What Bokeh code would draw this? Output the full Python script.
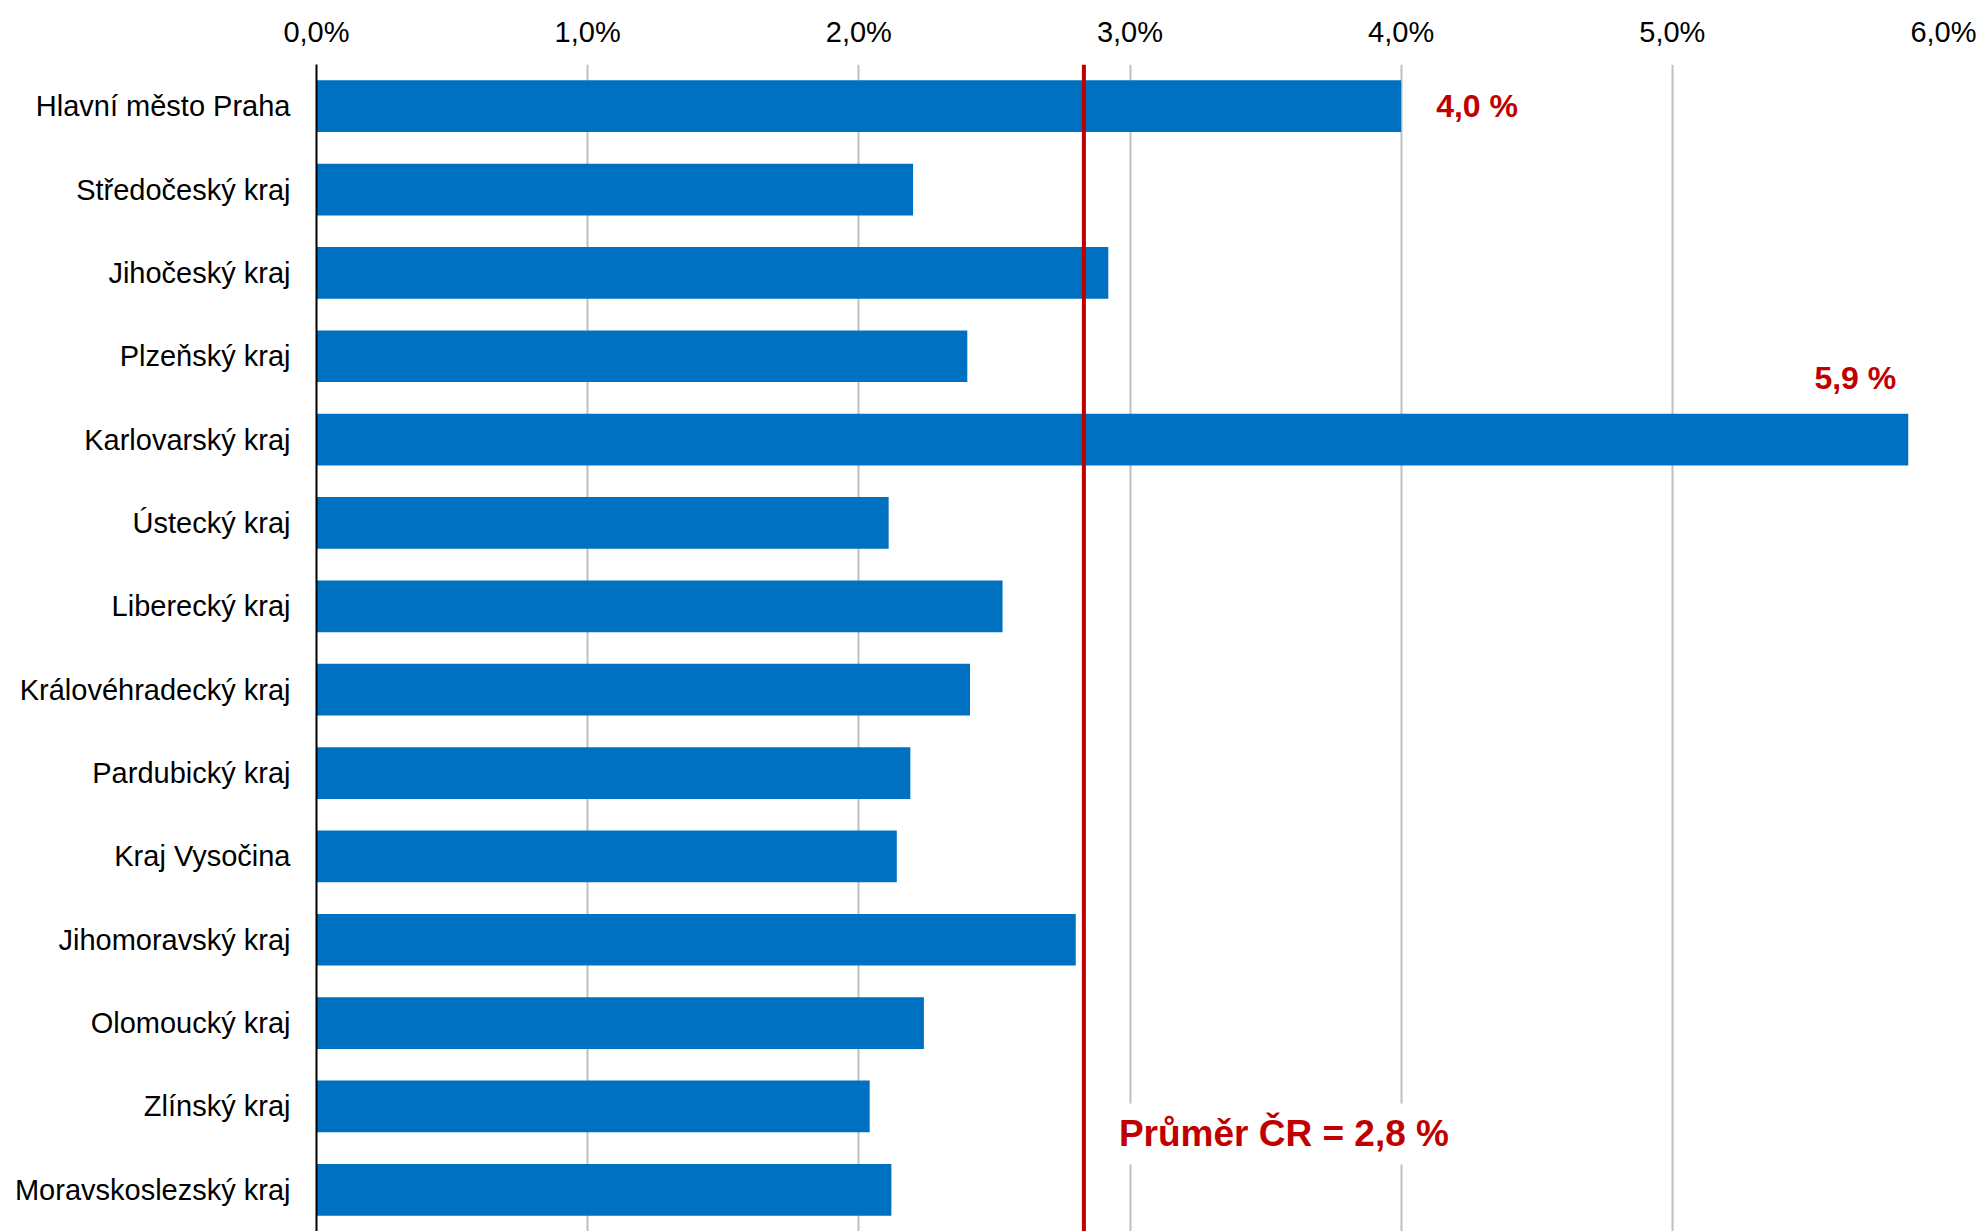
from bokeh.plotting import figure
from bokeh.models import Range1d, FixedTicker, Span, Label
from bokeh.embed import file_html
from bokeh.resources import INLINE

# ---- data ----
regions = [
    "Hlavní město Praha",
    "Středočeský kraj",
    "Jihočeský kraj",
    "Plzeňský kraj",
    "Karlovarský kraj",
    "Ústecký kraj",
    "Liberecký kraj",
    "Královéhradecký kraj",
    "Pardubický kraj",
    "Kraj Vysočina",
    "Jihomoravský kraj",
    "Olomoucký kraj",
    "Zlínský kraj",
    "Moravskoslezský kraj",
]
values = [4.00, 2.20, 2.92, 2.40, 5.87, 2.11, 2.53, 2.41, 2.19, 2.14, 2.80, 2.24, 2.04, 2.12]
average = 2.83
average_text = "Průměr ČR = 2,8 %"
x_ticks = [0, 1, 2, 3, 4, 5, 6]
x_tick_labels = ["0,0%", "1,0%", "2,0%", "3,0%", "4,0%", "5,0%", "6,0%"]
highlight = ["Hlavní město Praha", "Karlovarský kraj"]

FONT = "Liberation Sans"
BLUE = "#0070C0"
RED = "#C00000"

idx = list(range(len(regions)))

p = figure(
    width=1978, height=1231,
    x_range=Range1d(0, 6),
    y_range=Range1d(13.5, -0.5),
    x_axis_location="above",
    output_backend="svg", toolbar_location=None,
    min_border_left=316, min_border_right=35, min_border_top=64, min_border_bottom=0,
)
p.outline_line_color = None
p.background_fill_color = "white"

p.hbar(y=idx, left=0, right=values, height=0.62, fill_color=BLUE, line_color=None)

# axes
xa = p.xaxis[0]
xa.ticker = FixedTicker(ticks=x_ticks)
xa.major_label_overrides = {t: l for t, l in zip(x_ticks, x_tick_labels)}
xa.axis_line_color = None
xa.major_tick_line_color = None
xa.minor_tick_line_color = None
xa.major_label_text_font = FONT
xa.major_label_text_font_size = "29px"
xa.major_label_text_color = "black"
xa.major_label_standoff = 11

ya = p.yaxis[0]
ya.ticker = FixedTicker(ticks=idx)
ya.major_label_overrides = {i: r for i, r in zip(idx, regions)}
ya.axis_line_color = "black"
ya.axis_line_width = 2
ya.major_tick_line_color = None
ya.minor_tick_line_color = None
ya.major_label_text_font = FONT
ya.major_label_text_font_size = "29px"
ya.major_label_text_color = "black"
ya.major_label_standoff = 20

p.xgrid.ticker = FixedTicker(ticks=x_ticks)
p.xgrid.grid_line_color = "#BFBFBF"
p.xgrid.grid_line_width = 2
p.ygrid.grid_line_color = None

# average line
p.add_layout(Span(location=average, dimension="height", line_color=RED, line_width=4))
p.add_layout(Label(
    x=average, y=12.33, x_offset=25, text=average_text,
    text_font=FONT, text_font_style="bold", text_font_size="37px",
    text_color=RED, text_baseline="middle", text_align="left",
    background_fill_color="white", padding=10,
))

# value labels
for name in highlight:
    i = regions.index(name)
    v = values[i]
    txt = f"{v:.1f} %".replace(".", ",")
    if v >= 5:
        lab = Label(x=v, y=i, x_offset=-12, y_offset=62, text=txt, text_align="right",
                    text_baseline="middle")
    else:
        lab = Label(x=v, y=i, x_offset=35, text=txt, text_align="left",
                    text_baseline="middle")
    lab.text_font = FONT
    lab.text_font_style = "bold"
    lab.text_font_size = "32px"
    lab.text_color = RED
    p.add_layout(lab)

open("out.html", "w").write(file_html(p, INLINE))
